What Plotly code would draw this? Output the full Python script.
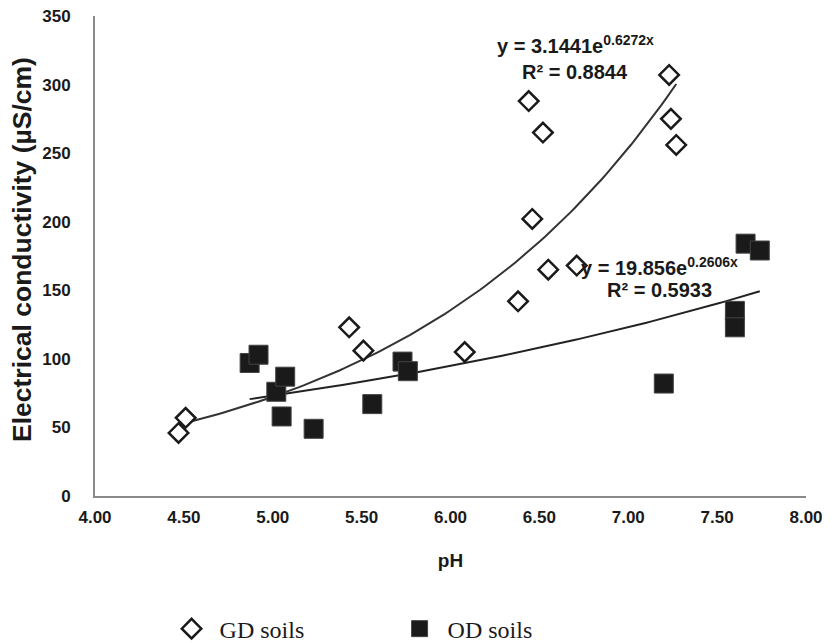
import numpy as np
import plotly.graph_objects as go

# ---- data ----
gd_ph = [4.47, 4.51, 5.43, 5.51, 6.08, 6.38, 6.44, 6.46, 6.52, 6.55, 6.71, 7.23, 7.24, 7.27]
gd_ec = [46, 57, 123, 106, 105, 142, 288, 202, 265, 165, 168, 307, 275, 256]
od_ph = [4.87, 4.92, 5.02, 5.05, 5.07, 5.23, 5.56, 5.73, 5.76, 7.20, 7.60, 7.60, 7.66, 7.74]
od_ec = [97, 103, 76, 58, 87, 49, 67, 98, 91, 82, 135, 123, 184, 179]

# exponential trend lines as printed on the chart: y = a * exp(b x)
gd_a, gd_b, gd_r2 = 3.1441, 0.6272, 0.8844
od_a, od_b, od_r2 = 19.856, 0.2606, 0.5933

x_ticks = [4.0, 4.5, 5.0, 5.5, 6.0, 6.5, 7.0, 7.5, 8.0]
x_ticklabels = ["4.00", "4.50", "5.00", "5.50", "6.00", "6.50", "7.00", "7.50", "8.00"]
y_ticks = [0, 50, 100, 150, 200, 250, 300, 350]

INK = "#1a1a1a"
SANS = "Liberation Sans, Arial, sans-serif"
SERIF = "Liberation Serif, Times New Roman, serif"

gd_x = np.linspace(min(gd_ph), max(gd_ph), 100)
od_x = np.linspace(min(od_ph), max(od_ph), 100)

fig = go.Figure()
fig.add_trace(go.Scatter(x=gd_x, y=gd_a * np.exp(gd_b * gd_x), mode="lines",
                         line=dict(color="#333333", width=2), showlegend=False, hoverinfo="skip"))
fig.add_trace(go.Scatter(x=od_x, y=od_a * np.exp(od_b * od_x), mode="lines",
                         line=dict(color="#222222", width=2), showlegend=False, hoverinfo="skip"))
fig.add_trace(go.Scatter(x=gd_ph, y=gd_ec, mode="markers", name="GD soils",
                         marker=dict(symbol="diamond", size=15, color="white",
                                     line=dict(color=INK, width=2.5))))
fig.add_trace(go.Scatter(x=od_ph, y=od_ec, mode="markers", name="OD soils",
                         marker=dict(symbol="square", size=19, color=INK,
                                     line=dict(color="#444444", width=1))))

ann_font = dict(family=SANS, size=20, color=INK)
fig.add_annotation(x=6.706, y=329, text="<b>y = %.4fe<sup>%.4fx</sup></b>" % (gd_a, gd_b),
                   showarrow=False, font=ann_font)
fig.add_annotation(x=6.70, y=309, text="<b>R² = %.4f</b>" % gd_r2, showarrow=False, font=ann_font)
fig.add_annotation(x=7.173, y=167, text="<b>y = %.3fe<sup>%.4fx</sup></b>" % (od_a, od_b),
                   showarrow=False, font=ann_font)
fig.add_annotation(x=7.173, y=150.5, text="<b>R² = %.4f</b>" % od_r2, showarrow=False, font=ann_font)

# y-axis title
fig.add_annotation(xref="paper", yref="paper", x=-0.1027, y=0.5146, textangle=-90,
                   text="<b>Electrical conductivity (µS/cm)</b>", showarrow=False,
                   xanchor="center", yanchor="middle",
                   font=dict(family=SANS, size=26.5, color=INK))

# the page body adds an 8 px offset, so the figure is drawn 8 px smaller and shifted
fig.update_layout(
    width=824, height=635,
    margin=dict(l=87, r=26, t=8, b=147, autoexpand=False),
    paper_bgcolor="white", plot_bgcolor="white",
    font=dict(family=SANS, color=INK),
    showlegend=True,
    legend=dict(orientation="h", xref="container", yref="container",
                x=0.1888, y=0.022, xanchor="left", yanchor="middle",
                font=dict(family=SERIF, size=24, color=INK),
                itemwidth=46, entrywidth=167, itemsizing="trace",
                bgcolor="rgba(0,0,0,0)"),
    xaxis=dict(range=[4, 8], tickvals=x_ticks, ticktext=x_ticklabels, automargin=False,
               showgrid=False, zeroline=False, showline=True, linecolor="#8a8a8a", linewidth=2,
               ticks="", tickfont=dict(family=SANS, size=17, color=INK, weight="bold"),
               ticklabelstandoff=5, ticklabeloverflow="allow",
               title=dict(text="<b>pH</b>", font=dict(family=SANS, size=19, color=INK), standoff=27)),
    yaxis=dict(range=[0, 350], tickvals=y_ticks, automargin=False,
               showgrid=False, zeroline=False, showline=True, linecolor="#8a8a8a", linewidth=2,
               ticks="", tickfont=dict(family=SANS, size=17, color=INK, weight="bold"),
               ticklabelstandoff=19, ticklabeloverflow="allow"),
)

fig.write_html("out.html")
